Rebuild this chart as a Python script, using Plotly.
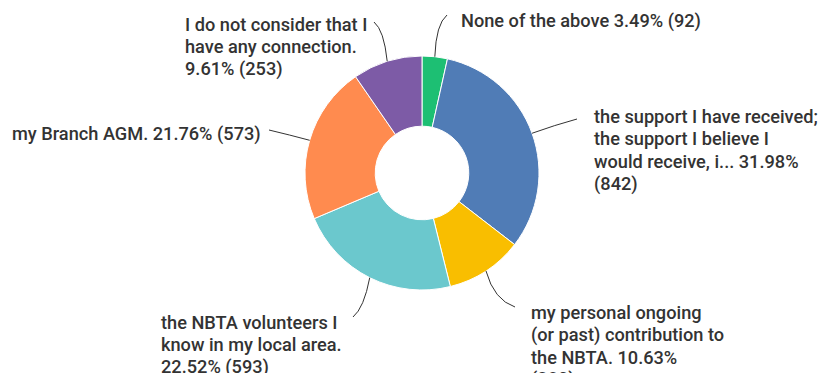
import math
import plotly.graph_objects as go

W, H = 822, 373

categories = [
    "None of the above",
    "the support I have received; the support I believe I would receive, i...",
    "my personal ongoing (or past) contribution to the NBTA.",
    "the NBTA volunteers I know in my local area.",
    "my Branch AGM.",
    "I do not consider that I have any connection.",
]
counts = [92, 842, 280, 593, 573, 253]
colors = ["#1dbf73", "#507cb6", "#f9be00", "#6bc8cd", "#ff8b4f", "#7d5ba6"]

# wrapped label lines ({p} = percent, {n} = count)
label_lines = [
    ["None of the above {p} ({n})"],
    ["the support I have received;", "the support I believe I", "would receive, i... {p}", "({n})"],
    ["my personal ongoing", "(or past) contribution to", "the NBTA. {p}", "({n})"],
    ["the NBTA volunteers I", "know in my local area.", "{p} ({n})"],
    ["my Branch AGM. {p} ({n})"],
    ["I do not consider that I", "have any connection.", "{p} ({n})"],
]
# label placement: left x (px), first line centre y (px), leader end (px), bend (px)
label_pos = [
    (459, 21, (447, 15), (436, 24)),
    (592, 116, (577, 119), (555, 125)),
    (529, 312, (515, 307), (494, 300)),
    (159, 322, (353, 317), (364, 308)),
    (10, 134, (269, 130), (290, 135)),
    (183, 24, (374, 22), (384, 30)),
]
LINE_H = 22.5
FONT = dict(family="Roboto", size=18.2, color="#333333", weight=500)

# pie geometry (pixels)
CX, CY, R = 422, 173, 117
dom_x = [(CX - R) / W, (CX + R) / W]
dom_y = [1 - (CY + R) / H, 1 - (CY - R) / H]

total = sum(counts)

fig = go.Figure(go.Pie(
    labels=categories,
    values=counts,
    sort=False,
    direction="clockwise",
    rotation=0,
    hole=0.4,
    marker=dict(colors=colors, line=dict(color="white", width=1)),
    textinfo="none",
    domain=dict(x=dom_x, y=dom_y),
    showlegend=False,
))

def px(x, y):
    return x / W, 1 - y / H

annotations = []
shapes = []
cum = 0
for i, n in enumerate(counts):
    frac_mid = (cum + n / 2) / total
    cum += n
    ang = 2 * math.pi * frac_mid
    sx = CX + R * math.sin(ang)
    sy = CY - R * math.cos(ang)
    lx, ly, end, bend = label_pos[i]
    p = f"{100 * n / total:.2f}%"
    for j, line in enumerate(label_lines[i]):
        ax, ay = px(lx, ly + j * LINE_H)
        annotations.append(dict(
            x=ax, y=ay, xref="paper", yref="paper",
            text=line.format(p=p, n=n), showarrow=False,
            xanchor="left", yanchor="middle",
            font=FONT,
        ))
    x0, y0 = px(sx, sy)
    x1, y1 = px(*bend)
    x2, y2 = px(*end)
    shapes.append(dict(
        type="path", xref="paper", yref="paper",
        path=f"M {x0},{y0} Q {x1},{y1} {x2},{y2}",
        line=dict(color="#333333", width=1),
    ))

fig.update_layout(
    width=W, height=H,
    margin=dict(l=0, r=0, t=0, b=0),
    paper_bgcolor="white", plot_bgcolor="white",
    annotations=annotations,
    shapes=shapes,
)

fig.write_html("out.html")
